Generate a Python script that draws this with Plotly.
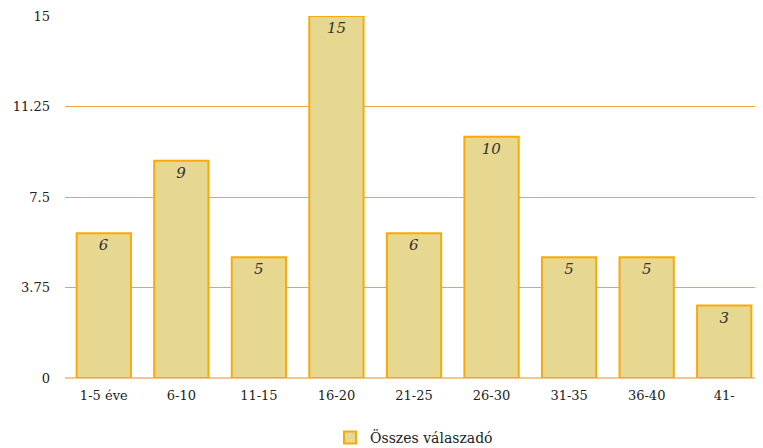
import plotly.graph_objects as go

categories = ["1-5 éve", "6-10", "11-15", "16-20", "21-25", "26-30", "31-35", "36-40", "41-"]
values = [6, 9, 5, 15, 6, 10, 5, 5, 3]
series_name = "Összes válaszadó"
ytick_vals = [0, 3.75, 7.5, 11.25, 15]
ytick_text = ["0", "3.75", "7.5", "11.25", "15"]

fig = go.Figure()
fig.add_trace(go.Bar(
    x=categories, y=values, name=series_name,
    marker=dict(color="#e6d890", line=dict(color="#f7aa0a", width=2)),
    text=[str(v) for v in values],
    textposition="inside", insidetextanchor="end",
    textfont=dict(family="DejaVu Serif", size=15, color="#333333", style="italic"),
    cliponaxis=False,
))
fig.update_layout(
    width=755, height=440,
    margin=dict(l=57, r=0, t=8, b=70, autoexpand=False),
    paper_bgcolor="white", plot_bgcolor="white",
    bargap=0.3,
    showlegend=True,
    legend=dict(orientation="h", x=0.5, xanchor="center", yref="container", y=0.023, yanchor="middle",
                font=dict(family="DejaVu Serif", size=14, color="#222222")),
    font=dict(family="DejaVu Serif", size=13, color="#222222"),
)
fig.update_xaxes(showgrid=False, showline=False, ticks="", tickfont=dict(size=13),
                 ticklabelstandoff=8)
fig.update_yaxes(range=[0, 15], tickvals=ytick_vals, ticktext=ytick_text,
                 showgrid=True, gridcolor="#eea445", gridwidth=1,
                 zeroline=True, zerolinecolor="#f0c890", zerolinewidth=1.5,
                 ticks="", tickfont=dict(size=13), ticklabelstandoff=14)
fig.write_html("out.html")
